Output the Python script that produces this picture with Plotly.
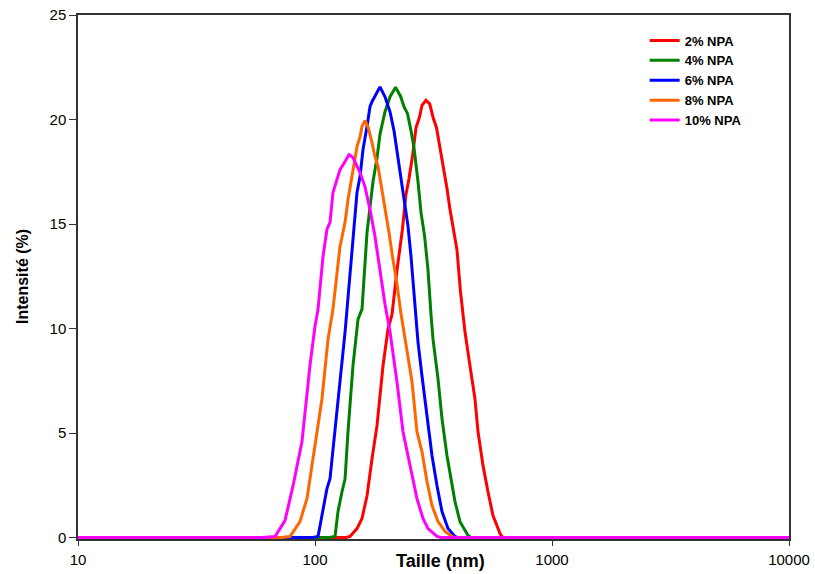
import plotly.graph_objects as go

# ---- data (size in nm, intensity in %) ----
series_names = ["2% NPA", "4% NPA", "6% NPA", "8% NPA", "10% NPA"]

x_2 = [10, 135, 140.5, 150.4, 157.9, 165.8, 174.0, 182.6, 193.6, 203.2,
       211.3, 221.8, 233.8, 241.6, 249.3, 258.4, 266.8, 276.0, 282.8, 294.0,
       304.8, 314.7, 325.6, 336.9, 346.7, 360.5, 371.1, 384.4, 397.3, 410.7,
       429.5, 450.8, 473.2, 487.3, 511.6, 537.0, 563.6, 603.4, 620, 10000]
y_2 = [0, 0, 0.05, 0.43, 0.91, 2.0, 3.77, 5.34, 8.21, 9.97,
       10.66, 12.79, 14.74, 16.36, 17.18, 18.32, 19.61, 20.11, 20.68, 20.92,
       20.75, 20.11, 19.61, 18.65, 17.65, 16.7, 15.7, 14.74, 13.76, 11.8,
       9.83, 8.21, 6.63, 5.06, 3.44, 2.19, 1.05, 0.19, 0, 0]

x_4 = [10, 115, 121.5, 125.0, 130.0, 133.9, 137.8, 144.6, 151.9, 157.9,
       165.8, 170.6, 175.7, 182.6, 188.0, 197.4, 207.3, 218.8, 230.0, 237.4,
       245.7, 254.1, 261.7, 272.0, 280.1, 290.1, 299.8, 308.7, 314.7, 330.4,
       343.5, 360.5, 371.1, 389.6, 409.1, 442.2, 455, 10000]
y_4 = [0, 0, 0.05, 1.24, 2.19, 2.81, 5.06, 8.21, 10.45, 10.93,
       14.6, 15.84, 17.03, 18.15, 19.29, 20.37, 21.09, 21.54, 21.09, 20.61,
       20.28, 19.47, 18.65, 17.03, 15.55, 14.41, 12.79, 10.66, 9.49, 7.59,
       5.68, 3.91, 3.15, 1.72, 0.76, 0.1, 0, 0]

x_6 = [10, 98, 103.0, 107.0, 112.3, 115.7, 121.5, 127.5, 133.9, 136.5,
       143.3, 147.5, 150.4, 154.9, 159.4, 165.8, 170.6, 174.0, 179.1, 188.0,
       197.4, 207.3, 215.4, 221.8, 230.7, 237.4, 246.9, 254.1, 264.2, 272.0,
       282.8, 299.8, 311.7, 327.2, 343.5, 364.0, 389.6, 400, 10000]
y_6 = [0, 0, 0.05, 1.05, 2.34, 2.81, 5.06, 7.44, 9.83, 10.93,
       13.65, 15.55, 16.51, 17.27, 18.56, 19.66, 20.61, 20.85, 21.09, 21.56,
       21.09, 20.37, 19.47, 18.46, 17.32, 16.22, 14.89, 13.45, 11.02, 9.35,
       7.73, 5.53, 3.91, 2.48, 1.24, 0.43, 0.05, 0, 0]

x_8 = [10, 72, 78.4, 86.4, 92.5, 98.1, 107.0, 113.5, 119.1, 127.5,
       133.9, 137.8, 144.6, 150.4, 154.9, 157.9, 162.5, 167.3, 174.0, 179.1,
       184.5, 191.8, 197.4, 205.2, 211.3, 221.8, 230.7, 244.5, 256.7, 269.3,
       282.8, 297.0, 311.7, 330.4, 353.7, 378.4, 390, 10000]
y_8 = [0, 0, 0.05, 0.76, 1.86, 3.77, 6.63, 9.49, 10.93, 13.93,
       15.08, 16.17, 17.46, 18.7, 19.18, 19.66, 19.94, 19.66, 18.89, 18.23,
       17.75, 16.65, 15.7, 14.6, 13.6, 12.12, 10.69, 9.02, 7.44, 5.06,
       4.1, 2.67, 1.53, 0.76, 0.29, 0.05, 0, 0]

x_10 = [10, 60, 67.8, 74.7, 80.8, 88.1, 95.2, 100, 103, 108.1,
        112.3, 115.7, 119.1, 127.5, 133.9, 139.2, 144.6, 154.9, 162.5, 170.6,
        179.1, 188.0, 197.4, 207.3, 221.8, 235.1, 251.6, 269.3, 285.6, 299.8,
        327.2, 340, 10000]
y_10 = [0, 0, 0.05, 0.81, 2.48, 4.58, 8.21, 10.11, 10.93, 13.45,
        14.74, 15.08, 16.51, 17.6, 17.99, 18.32, 18.18, 17.46, 16.79, 15.7,
        14.41, 12.83, 11.16, 9.83, 7.44, 5.06, 3.44, 1.86, 0.91, 0.43,
        0.05, 0, 0]

x_tick_vals = [10, 100, 1000, 10000]
x_tick_text = ["10", "100", "1000", "10000"]
y_tick_vals = [0, 5, 10, 15, 20, 25]

colors = ["#FF0000", "#008000", "#0000FF", "#FF6600", "#FF00FF"]
xs = [x_2, x_4, x_6, x_8, x_10]
ys = [y_2, y_4, y_6, y_8, y_10]

fig = go.Figure()
for name, xv, yv, c in zip(series_names, xs, ys, colors):
    fig.add_trace(go.Scatter(x=xv, y=yv, mode="lines", name=name,
                             line=dict(color=c, width=3)))

axis_col = "#333333"
W, H = 815, 574
L, R, T, B = 78, 26, 15, 35
plot_w = W - L - R
fig.update_layout(
    width=W, height=H,
    margin=dict(l=L, r=R, t=T, b=B),
    paper_bgcolor="white", plot_bgcolor="white",
    font=dict(family="Liberation Sans, Arial, sans-serif", size=14, color="black"),
    showlegend=True,
    legend=dict(x=0.797, y=0.98, xanchor="left", yanchor="top",
                bgcolor="rgba(0,0,0,0)",
                font=dict(size=13, family="Liberation Sans, Arial, sans-serif", weight="bold"),
                tracegroupgap=0, itemwidth=30),
    xaxis=dict(type="log", range=[1, 4], tickvals=x_tick_vals, ticktext=x_tick_text,
               showgrid=False, zeroline=False, showline=True, linecolor=axis_col,
               linewidth=1.5, mirror=True, ticks="outside", ticklen=5,
               tickcolor=axis_col, ticklabelstandoff=1, layer="below traces",
               tickfont=dict(size=15), automargin=False),
    yaxis=dict(range=[-0.07, 25], tickvals=y_tick_vals, showgrid=False,
               zeroline=False, showline=True, linecolor=axis_col, linewidth=1.5,
               mirror=True, ticks="outside", ticklen=7, tickcolor=axis_col,
               layer="below traces", tickfont=dict(size=15), automargin=False),
    annotations=[
        dict(text="Taille (nm)", xref="paper", yref="paper",
             x=(440 - L) / plot_w, y=-0.042, xanchor="center", yanchor="middle",
             showarrow=False, font=dict(size=18, weight="bold")),
        dict(text="Intensité (%)", xref="paper", yref="paper", textangle=-90,
             x=(22 - L) / plot_w, y=0.5, xanchor="center", yanchor="middle",
             showarrow=False, font=dict(size=16, weight="bold")),
    ],
)

fig.write_html("out.html", config={"displayModeBar": False},
               post_script="document.body.style.margin='0';")
